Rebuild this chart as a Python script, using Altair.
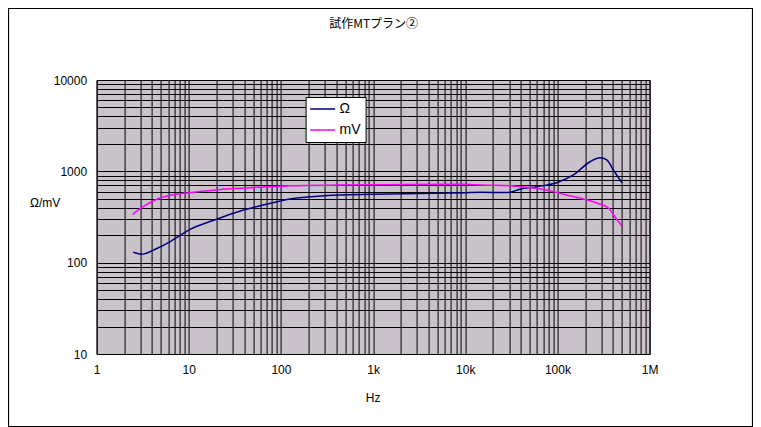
import altair as alt
import pandas as pd

# --- data ---
ohm_freq = [2.5, 3.1, 4.5, 6.3, 8.0, 10.2, 19, 37, 64, 126, 437, 1000, 10000, 14500, 28000, 30600,
            39000, 59700, 98000, 149000, 226000, 290000, 343000, 405000, 499000]
ohm_val = [130, 124, 143, 170, 198, 230, 293, 370, 428, 498, 551, 560, 583, 589, 585, 589,
           636, 679, 751, 912, 1274, 1410, 1331, 1035, 751]

mv_freq = [2.46, 3.21, 4.5, 6.3, 10.3, 23.7, 54.6, 126, 437, 10000, 14500, 30600, 50000,
           76000, 117000, 178000, 272000, 360000, 421000, 499000]
mv_val = [338, 410, 494, 547, 583, 636, 668, 696, 708, 721, 708, 696, 662,
          625, 560, 507, 447, 394, 318, 252]

series_names = ["Ω", "mV"]
series_colors = ["#000080", "#ff00ff"]

x_decades = [1, 10, 100, 1000, 10000, 100000, 1000000]
x_labels = ["1", "10", "100", "1k", "10k", "100k", "1M"]
y_decades = [10, 100, 1000, 10000]

title_text = "試作MTプラン②"

x_grid = [m * d for d in x_decades[:-1] for m in range(1, 10)] + [1000000]
y_grid = [m * d for d in y_decades[:-1] for m in range(1, 10)] + [10000]

rows = [{"f": f, "v": v, "s": "Ω", "o": i} for i, (f, v) in enumerate(zip(ohm_freq, ohm_val))]
rows += [{"f": f, "v": v, "s": "mV", "o": i} for i, (f, v) in enumerate(zip(mv_freq, mv_val))]
df = pd.DataFrame(rows)

label_expr = " : ".join(
    f"datum.value == {v} ? '{l}'" for v, l in zip(x_decades, x_labels)
) + " : ''"
y_label_expr = " : ".join(f"datum.value == {v} ? '{v}'" for v in y_decades) + " : ''"

FONT = "Liberation Sans"

lines = alt.Chart(df).mark_line(strokeWidth=1.5, interpolate="monotone").encode(
    x=alt.X("f:Q", scale=alt.Scale(type="log", domain=[1, 1000000], nice=False),
            axis=alt.Axis(values=x_grid, labelExpr=label_expr, grid=True, gridColor="black",
                          gridOpacity=1, gridWidth=1, ticks=False, domain=False,
                          labelFontSize=12, labelColor="black", labelPadding=10,
                          labelFont=FONT, labelFlush=False, labelOverlap=False,
                          title="Hz", titleFont=FONT, titleFontSize=12,
                          titleFontWeight="normal", titleColor="black",
                          titleX=276, titleY=43, titleBaseline="middle", titleAlign="center")),
    y=alt.Y("v:Q", scale=alt.Scale(type="log", domain=[10, 10000], nice=False),
            axis=alt.Axis(values=y_grid, labelExpr=y_label_expr, grid=True, gridColor="black",
                          gridOpacity=1, gridWidth=1, ticks=False, domain=False,
                          labelFontSize=12, labelColor="black", labelPadding=10,
                          labelFont=FONT, labelOverlap=False,
                          title="Ω/mV", titleFont=FONT, titleFontSize=12,
                          titleFontWeight="normal", titleColor="black", titleAngle=0,
                          titleX=-52, titleY=122, titleBaseline="middle", titleAlign="center")),
    color=alt.Color("s:N", scale=alt.Scale(domain=series_names, range=series_colors),
                    legend=alt.Legend(title=None, orient="none", legendX=209, legendY=17,
                                      fillColor="white", strokeColor="black", padding=5,
                                      symbolType="M-2,0H2", symbolSize=156.25,
                                      symbolStrokeWidth=1.5, symbolOffset=5,
                                      labelFont=FONT, labelFontSize=14, labelColor="black",
                                      labelOffset=10, rowPadding=7, cornerRadius=0)),
    order="o:Q",
)

one = pd.DataFrame({"k": [0]})
frame = alt.Chart(one).mark_rect(fill=None, stroke="black", strokeWidth=1.2).encode(
    x=alt.value(-88.1), x2=alt.value(655.9), y=alt.value(-71.5), y2=alt.value(346.5)
)
title = alt.Chart(one).mark_text(font="Noto Sans CJK JP", fontSize=12, color="black",
                                 align="center", baseline="middle").encode(
    x=alt.value(277), y=alt.value(-56), text=alt.value(title_text)
)

chart = alt.layer(lines, frame, title).properties(
    width=553, height=274,
    autosize=alt.AutoSizeParams(type="none"),
    padding={"left": 88.6, "top": 72, "right": 103.4, "bottom": 73},
    background="white",
).configure_view(fill="#cac2ca", stroke="black", strokeWidth=1)

chart.save("out.html", embed_options={"renderer": "svg", "actions": False})
